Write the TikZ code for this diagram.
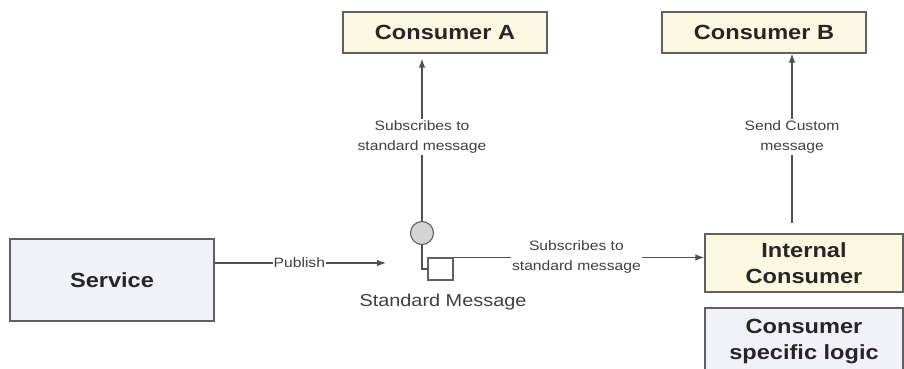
\documentclass[tikz,border=0pt]{standalone}
\usepackage{fontspec}
\setmainfont{Liberation Sans}[FakeStretch=1.15]
\usetikzlibrary{arrows.meta}
\definecolor{cream}{HTML}{FCF7E1}
\definecolor{lav}{HTML}{F1F1FA}
\definecolor{edge}{HTML}{606060}
\definecolor{ln}{HTML}{505050}
\definecolor{bubble}{HTML}{D4D4D4}
\tikzset{
  box/.style={draw=edge, line width=1.4bp, inner sep=0pt, align=center,
    font=\fontsize{20.5bp}{26bp}\selectfont\bfseries, text=black!85},
  cbox/.style={box, fill=cream},
  lbox/.style={box, fill=lav},
  conn/.style={draw=ln, line width=1.1bp},
  arr/.style={conn, -{Latex[length=9bp,width=6.5bp]}},
  lab/.style={fill=white, inner sep=1.5bp, align=center, text=black!75,
    font=\fontsize{13.6bp}{20bp}\selectfont},
}
\begin{document}
\begin{tikzpicture}[x=1bp,y=-1bp]
\clip (0,0) rectangle (904,368);
\fill[white] (0,0) rectangle (904,368);
\node[cbox, minimum width=204bp, minimum height=41bp] (consA) at (445,32.5) {Consumer A};
\node[cbox, minimum width=204bp, minimum height=41bp] (consB) at (764,32.5) {Consumer B};
\node[lbox, minimum width=204bp, minimum height=82bp] (service) at (112,280) {Service};
\node[cbox, minimum width=198bp, minimum height=58bp] (internal) at (804,263) {Internal\\Consumer};
\node[lbox, minimum width=198bp, minimum height=68bp] (logic) at (804,342) {Consumer\\specific logic};
% topic symbol
\node[circle, draw=edge, fill=bubble, line width=1.1bp, minimum size=23bp, inner sep=0pt] (topic) at (422,233) {};
\node[draw=edge, fill=white, line width=1.1bp, minimum width=25bp, minimum height=22bp, inner sep=0pt] (sq) at (440.5,269) {};
\draw[conn] (topic.south) |- (sq.west);
\node[font=\fontsize{17.3bp}{20bp}\selectfont, text=black!75] (stdlabel) at (443,302) {Standard Message};
% publish
\coordinate (pubend) at (386,263);
\draw[arr] (service.east |- pubend) -- node[lab, inner sep=0.5bp, xshift=-1bp] (publab) {Publish} (pubend);
% subscribe to consumer A
\draw[arr, shorten >=5bp] (topic.north) -- node[lab, pos=0.5] (subA) {Subscribes to\\standard message} (topic.north |- consA.south);
% subscribe to internal consumer
\draw[arr] (sq.north east) -- node[lab, pos=0.49] (subI) {Subscribes to\\standard message} (sq.north east -| internal.west);
% custom message to consumer B
\coordinate (bstart) at (792,223);
\draw[arr] (bstart) -- node[lab, pos=0.51] (custom) {Send Custom\\message} (bstart |- consB.south);
\end{tikzpicture}
\end{document}
